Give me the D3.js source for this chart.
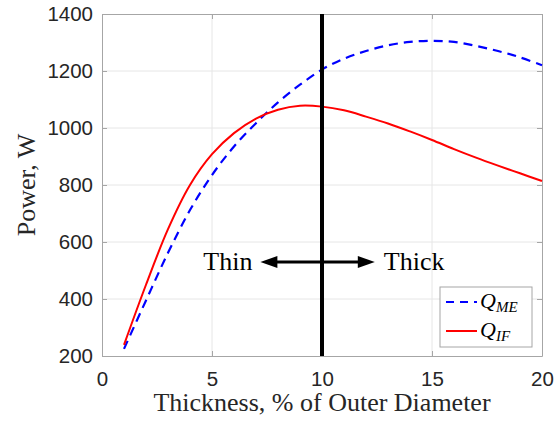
<!DOCTYPE html>
<html>
<head>
<meta charset="utf-8">
<script src="https://cdn.jsdelivr.net/npm/d3@7"></script>
<style>
  body { margin: 0; background: #fff; }
  svg { display: block; }
</style>
</head>
<body>
<svg></svg>
<script>
// values
const thickness = [1, 2, 3, 4, 5, 6, 7, 8, 9, 10, 11, 12, 13, 14, 15, 16, 17, 18, 19, 20]
const qME = [225, 395, 562, 712, 835, 935, 1017, 1090, 1152, 1205, 1243, 1270, 1290, 1302, 1306, 1302, 1288, 1270, 1248, 1220]
const qIF = [239, 450, 645, 800, 908, 982, 1033, 1064, 1078, 1075, 1062, 1040, 1016, 988, 958, 926, 896, 868, 841, 814]
const xTicks = [0, 5, 10, 15, 20]
const yTicks = [200, 400, 600, 800, 1000, 1200, 1400]
const divider = 10
const arrowSpan = [7.2, 12.4], arrowLevel = 530

const
    width = 559,
    height = 421,
    plotLeft = 102, plotRight = 542, plotTop = 14, plotBottom = 356

let svg = d3.select('svg')
    .attr('width', width)
    .attr('height', height)

let x = d3.scaleLinear().domain([0, 20]).range([plotLeft, plotRight])
let y = d3.scaleLinear().domain([200, 1400]).range([plotBottom, plotTop])

// grid
svg.append('g').selectAll('line')
    .data(xTicks.slice(1, -1))
    .enter().append('line')
        .attr('x1', d => x(d)).attr('x2', d => x(d))
        .attr('y1', plotTop).attr('y2', plotBottom)
        .attr('stroke', '#e6e6e6')
svg.append('g').selectAll('line')
    .data(yTicks.slice(1, -1))
    .enter().append('line')
        .attr('y1', d => y(d)).attr('y2', d => y(d))
        .attr('x1', plotLeft).attr('x2', plotRight)
        .attr('stroke', '#e6e6e6')

// axes with inward ticks
const axisColor = '#a6a6a6'
function styleAxis(g) {
    g.select('.domain').attr('stroke', axisColor)
    g.selectAll('.tick line').attr('stroke', axisColor)
    g.selectAll('text').attr('fill', '#262626')
        .style('font-family', '"Liberation Sans", Arial, sans-serif')
        .style('font-size', '20.5px')
}
const fmt = d3.format('d')
svg.append('g').attr('transform', `translate(0,${plotBottom})`)
    .call(d3.axisBottom(x).tickValues(xTicks).tickFormat(fmt).tickSizeInner(-5).tickSizeOuter(0).tickPadding(15))
    .call(styleAxis)
svg.append('g').attr('transform', `translate(${plotLeft},0)`)
    .call(d3.axisLeft(y).tickValues(yTicks).tickFormat(fmt).tickSizeInner(-5).tickSizeOuter(0).tickPadding(9))
    .call(styleAxis)
svg.append('g').attr('transform', `translate(0,${plotTop})`)
    .call(d3.axisTop(x).tickValues(xTicks).tickSizeInner(-5).tickSizeOuter(0).tickFormat(''))
    .call(styleAxis)
svg.append('g').attr('transform', `translate(${plotRight},0)`)
    .call(d3.axisRight(y).tickValues(yTicks).tickSizeInner(-5).tickSizeOuter(0).tickFormat(''))
    .call(styleAxis)

// curves
let line = d3.line().curve(d3.curveCatmullRom)
    .x((d, i) => x(thickness[i]))
    .y(d => y(d))

svg.append('path')
    .attr('d', line(qME))
    .attr('fill', 'none')
    .attr('stroke', '#0000ff')
    .attr('stroke-width', 2.2)
    .attr('stroke-dasharray', '9,6')

svg.append('path')
    .attr('d', line(qIF))
    .attr('fill', 'none')
    .attr('stroke', '#ff0000')
    .attr('stroke-width', 2)

// thin/thick divider
svg.append('line')
    .attr('x1', x(divider)).attr('x2', x(divider))
    .attr('y1', plotTop).attr('y2', plotBottom)
    .attr('stroke', '#000')
    .attr('stroke-width', 4)

// double arrow
const headLen = 17, headHalf = 6
let ax0 = x(arrowSpan[0]), ax1 = x(arrowSpan[1]), ay = y(arrowLevel)
svg.append('line')
    .attr('x1', ax0 + headLen - 2).attr('x2', ax1 - headLen + 2)
    .attr('y1', ay).attr('y2', ay)
    .attr('stroke', '#000')
    .attr('stroke-width', 3)
svg.append('path')
    .attr('d', `M${ax0},${ay}L${ax0 + headLen},${ay - headHalf}L${ax0 + headLen},${ay + headHalf}Z`)
svg.append('path')
    .attr('d', `M${ax1},${ay}L${ax1 - headLen},${ay - headHalf}L${ax1 - headLen},${ay + headHalf}Z`)

const serif = '"Liberation Serif", "Times New Roman", serif'
svg.append('text')
    .text('Thin')
    .attr('x', ax0 - 8).attr('y', ay + 8)
    .attr('text-anchor', 'end')
    .style('font-family', serif).style('font-size', '26px')
svg.append('text')
    .text('Thick')
    .attr('x', ax1 + 9).attr('y', ay + 8)
    .style('font-family', serif).style('font-size', '26px')

// axis titles
svg.append('text')
    .text('Thickness, % of Outer Diameter')
    .attr('x', (plotLeft + plotRight) / 2).attr('y', 411)
    .attr('text-anchor', 'middle')
    .attr('fill', '#262626')
    .style('font-family', serif).style('font-size', '26px')
svg.append('text')
    .text('Power, W')
    .attr('transform', `translate(35,${(plotTop + plotBottom) / 2}) rotate(-90)`)
    .attr('text-anchor', 'middle')
    .attr('fill', '#262626')
    .style('font-family', serif).style('font-size', '26px')

// legend
let legend = svg.append('g').attr('transform', 'translate(440,287)')
legend.append('rect')
    .attr('width', 92).attr('height', 60)
    .attr('fill', '#fff')
    .attr('stroke', axisColor)
const entries = [
    {sub: 'ME', color: '#0000ff', dash: '8,6'},
    {sub: 'IF', color: '#ff0000', dash: null}
]
entries.forEach((e, i) => {
    let cy = 15 + i * 29
    legend.append('line')
        .attr('x1', 6).attr('x2', 37)
        .attr('y1', cy).attr('y2', cy)
        .attr('stroke', e.color)
        .attr('stroke-width', 2)
        .attr('stroke-dasharray', e.dash)
    let t = legend.append('text')
        .attr('x', 40).attr('y', cy + 6)
        .style('font-family', serif).style('font-style', 'italic')
    t.append('tspan').text('Q').style('font-size', '22px')
    t.append('tspan').text(e.sub).attr('dy', 4).style('font-size', '15px')
})
</script>
</body>
</html>
